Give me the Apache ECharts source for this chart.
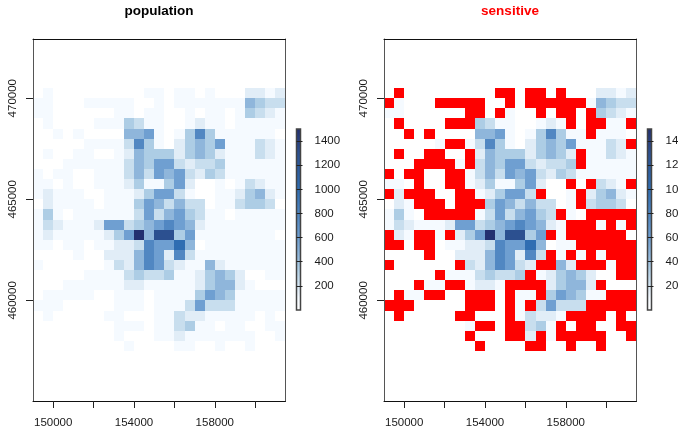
<!DOCTYPE html>
<html><head><meta charset="utf-8">
<style>html,body{margin:0;padding:0;background:#fff;overflow:hidden}#c{width:678px;height:427px}</style>
<script src="https://cdn.jsdelivr.net/npm/echarts@6/dist/echarts.min.js"></script>
</head><body><div id="c"></div>
<script>
const _ = null;
const xOrigin = 149000, yOrigin = 470500, cellSize = 500;
const population = [
[_,50,_,_,_,_,_,_,_,_,_,50,50,_,50,50,_,50,_,_,_,130,130,50,130],
[50,50,_,_,_,50,50,50,50,50,_,_,50,_,50,50,50,50,50,50,50,400,300,210,210],
[50,50,_,_,_,_,_,_,50,50,_,50,50,_,_,50,_,50,50,_,50,300,210,130,50],
[_,50,_,_,_,_,50,50,50,300,210,50,50,_,_,50,130,50,50,_,50,50,50,50,50],
[_,_,50,_,50,_,_,_,_,400,400,520,50,_,50,300,700,300,50,50,50,50,50,50,_],
[_,_,_,_,_,50,50,50,50,210,700,300,50,_,130,300,400,300,520,50,50,50,210,130,50],
[_,50,_,_,50,50,_,_,50,130,400,300,300,300,130,300,400,300,130,50,50,50,210,130,50],
[_,_,_,50,50,50,50,50,50,210,400,300,520,520,210,130,210,210,300,50,50,50,50,50,50],
[50,_,50,50,_,_,50,50,50,210,400,210,520,400,520,210,130,300,210,50,50,50,50,50,50],
[50,50,_,50,_,_,50,50,50,130,300,50,50,300,520,130,_,_,50,_,50,210,130,50,50],
[50,130,50,50,50,_,_,50,50,50,130,300,520,520,210,50,_,_,50,50,130,300,400,130,50],
[_,130,50,50,50,50,_,50,50,50,300,520,400,210,400,210,210,_,50,50,210,300,300,210,_],
[50,300,50,_,50,50,50,50,50,50,210,520,210,400,520,300,210,50,50,_,50,50,50,50,50],
[50,210,130,50,50,50,130,520,520,210,300,400,520,700,520,400,130,50,50,50,50,50,50,50,50],
[50,130,50,50,50,50,50,130,300,520,1450,400,1100,1100,300,520,50,50,50,50,50,50,50,50,_],
[50,50,_,50,50,_,50,50,130,130,210,700,520,520,850,400,_,50,50,50,50,50,50,50,50],
[_,_,_,_,50,_,_,130,130,130,400,700,520,130,700,210,50,50,50,50,50,50,50,50,50],
[50,_,_,_,_,_,_,50,210,130,400,700,520,210,130,50,50,400,130,50,50,50,50,50,50],
[_,_,_,_,_,50,50,50,50,210,300,210,210,300,50,50,130,300,400,300,130,_,_,50,50],
[_,_,_,50,50,50,50,50,50,130,130,50,50,50,50,50,130,300,400,400,130,50,_,_,_],
[_,50,50,50,50,50,_,_,50,50,50,_,50,50,50,50,300,520,400,300,50,50,50,50,50],
[50,50,50,_,_,_,_,_,50,50,50,_,50,50,50,210,520,210,210,210,50,50,50,50,50],
[_,50,_,_,_,_,_,50,50,_,_,_,50,50,210,130,130,50,50,50,50,50,_,50,_],
[_,_,_,_,_,_,_,_,50,50,50,_,50,50,210,300,50,50,_,50,50,_,_,50,50],
[_,_,_,_,_,_,_,_,50,_,_,_,50,50,130,50,50,50,50,50,50,50,_,_,50],
[_,_,_,_,_,_,_,_,_,50,_,_,_,_,50,50,_,_,50,_,_,50,_,_,_]
];
const sensitive = [
[_,0,_,_,_,_,_,_,_,_,_,0,0,_,0,0,_,0,_,_,_,13,13,5,13],
[0,5,_,_,_,0,0,0,0,0,_,_,0,_,0,0,0,0,0,0,5,40,30,21,21],
[5,5,_,_,_,_,_,_,0,0,_,0,5,_,_,0,_,0,0,_,0,30,21,13,5],
[_,0,_,_,_,_,0,0,0,30,21,5,5,_,_,5,13,5,0,_,0,0,5,5,0],
[_,_,0,_,0,_,_,_,_,40,40,52,5,_,5,30,70,30,5,5,0,5,5,5,_],
[_,_,_,_,_,5,0,0,5,21,70,30,5,_,13,30,40,30,52,5,5,5,21,13,0],
[_,0,_,_,0,0,_,_,0,13,40,30,30,30,13,30,40,30,13,0,5,5,21,13,5],
[_,_,_,0,0,0,0,5,0,21,40,30,52,52,21,13,21,21,30,0,5,5,5,5,5],
[0,_,0,0,_,_,0,0,5,21,40,21,52,40,52,21,13,30,21,5,5,5,5,5,5],
[5,5,_,0,_,_,0,0,5,13,30,5,5,30,52,13,_,_,0,_,0,21,13,5,0],
[0,13,0,0,0,_,_,0,0,5,13,30,52,52,21,0,_,_,5,0,13,30,40,13,5],
[_,13,5,0,0,0,_,0,0,0,30,52,40,21,40,21,21,_,5,0,21,30,30,21,_],
[5,30,5,_,0,0,0,0,0,5,21,52,21,40,52,30,21,0,5,_,0,0,0,0,0],
[5,21,13,5,5,5,13,52,52,21,30,40,52,70,52,40,13,5,0,0,0,5,0,5,0],
[0,13,5,0,0,5,0,13,30,52,145,40,110,110,30,52,0,5,0,0,0,0,0,0,_],
[0,0,_,0,0,_,5,5,13,13,21,70,52,52,85,40,_,5,5,0,0,0,0,0,0],
[_,_,_,_,0,_,_,13,13,13,40,70,52,13,70,21,0,5,0,5,0,5,0,0,0],
[0,_,_,_,_,_,_,0,21,13,40,70,52,21,13,0,0,40,13,0,0,0,5,0,0],
[_,_,_,_,_,0,5,5,5,21,30,21,21,30,0,5,13,30,40,30,13,_,_,0,0],
[_,_,_,0,5,5,0,0,5,13,13,5,0,0,0,0,13,30,40,40,13,0,_,_,_],
[_,0,5,5,0,0,_,_,0,0,0,_,0,5,5,0,30,52,40,30,5,5,0,0,0],
[0,0,0,_,_,_,_,_,0,0,0,_,0,5,0,21,52,21,21,21,0,0,0,0,0],
[_,0,_,_,_,_,_,0,0,_,_,_,0,5,21,13,13,5,0,0,0,0,_,0,_],
[_,_,_,_,_,_,_,_,5,0,0,_,0,0,21,30,5,0,_,0,0,_,_,0,0],
[_,_,_,_,_,_,_,_,0,_,_,_,0,0,13,0,5,0,0,0,0,0,_,_,0],
[_,_,_,_,_,_,_,_,_,0,_,_,_,_,0,0,_,_,0,_,_,0,_,_,_]
];
const xTicks = [150000,152000,154000,156000,158000,160000];
const xLabels = [150000,154000,158000];
const yTicks = [460000,465000,470000];
const popTicks = [200,400,600,800,1000,1200,1400];
const senTicks = [20,40,60,80,100,120,140];
const palette = ['#F5FAFF','#E1EDF7','#C8DEEE','#ADCDE5','#8FB6DB','#6F9FD1','#5187C2','#2F6DB2','#2C5090','#222F70'];
const popBreaks = [100,170,250,350,460,600,780,1000,1300,1500];
const senBreaks = [10,17,25,35,46,60,78,100,130,150];

function colorFor(v, breaks){
  if (v === 0) return '#FF0000';
  for (let i = 0; i < breaks.length; i++) if (v <= breaks[i]) return palette[i];
  return palette[palette.length-1];
}
function cells(matrix){
  const out = [];
  matrix.forEach((row, r) => row.forEach((v, c) => {
    if (v !== null) out.push([xOrigin + c*cellSize, yOrigin - r*cellSize, v]);
  }));
  return out;
}
const tc = '#1a1a1a', font = 'Liberation Sans, Arial, sans-serif';
const panels = [
  {left:33, title:'population', color:'#000', m:population, br:popBreaks, cbLeft:296.5, max:1500, ticks:popTicks},
  {left:384, title:'sensitive', color:'#FF0000', m:sensitive, br:senBreaks, cbLeft:647.5, max:150, ticks:senTicks}
];
const grid=[], xAxis=[], yAxis=[], series=[], title=[];
panels.forEach((p,i)=>{
  grid.push({left:p.left, top:39, width:252.5, height:362, show:false, outerBoundsMode:'none'});
  grid.push({left:p.cbLeft, top:129, width:4, height:181, show:false, outerBoundsMode:'none'});
  const g = i*2, cb = i*2+1;
  const hLine = {show:true, onZero:false, lineStyle:{color:'#111', width:1}};
  const vLine = {show:true, onZero:false, lineStyle:{color:'#555', width:1}};
  const ext = {xmin:149000, xmax:161500, ymin:455025, ymax:472928};
  const xb = xAxis.length;
  xAxis.push({gridIndex:g, type:'value', position:'bottom', min:ext.xmin, max:ext.xmax, z:10, axisLine:hLine,
    splitLine:{show:false}, axisTick:{show:true, length:7, customValues:xTicks, lineStyle:{color:'#222'}},
    axisLabel:{show:true, customValues:xLabels, margin:16, color:tc, fontSize:11.5, fontFamily:font, formatter:v=>String(v)}});
  xAxis.push({gridIndex:g, type:'value', position:'top', min:ext.xmin, max:ext.xmax, z:10, axisLine:hLine,
    splitLine:{show:false}, axisTick:{show:false}, axisLabel:{show:false}});
  const yl = yAxis.length;
  yAxis.push({gridIndex:g, type:'value', position:'left', min:ext.ymin, max:ext.ymax, z:10, axisLine:vLine,
    splitLine:{show:false}, axisTick:{show:true, length:7, customValues:yTicks, lineStyle:{color:'#222'}},
    axisLabel:{show:true, customValues:yTicks, rotate:90, margin:14, color:tc, fontSize:11.5, fontFamily:font, formatter:v=>String(v)}});
  yAxis.push({gridIndex:g, type:'value', position:'right', min:ext.ymin, max:ext.ymax, z:10, axisLine:vLine,
    splitLine:{show:false}, axisTick:{show:false}, axisLabel:{show:false}});
  const xc = xAxis.length;
  xAxis.push({gridIndex:cb, type:'value', min:0, max:1, show:false});
  const yc = yAxis.length;
  yAxis.push({gridIndex:cb, type:'value', position:'right', min:0, max:p.max, z:10, axisLine:{show:false},
    splitLine:{show:false}, axisTick:{show:true, length:6, customValues:p.ticks, lineStyle:{color:'#222'}},
    axisLabel:{show:true, customValues:p.ticks, margin:14, color:tc, fontSize:11.5, fontFamily:font, formatter:v=>String(v)}});
  series.push({type:'custom', coordinateSystem:'cartesian2d', xAxisIndex:xb, yAxisIndex:yl, silent:true, animation:false,
    encode:{x:0,y:1}, data:cells(p.m), clip:true,
    renderItem:(params,api)=>{
      const a = api.coord([api.value(0), api.value(1)]);
      const b = api.coord([api.value(0)+cellSize, api.value(1)-cellSize]);
      const x0 = Math.round(a[0]), y0 = Math.round(a[1]), x1 = Math.round(b[0]), y1 = Math.round(b[1]);
      return {type:'rect', shape:{x:x0,y:y0,width:x1-x0,height:y1-y0}, style:{fill:colorFor(api.value(2),p.br)}};
    }});
  series.push({type:'custom', coordinateSystem:'cartesian2d', xAxisIndex:xc, yAxisIndex:yc, silent:true, animation:false,
    encode:{x:0,y:1}, data:[[0,0],[1,p.max]], clip:false,
    renderItem:(params,api)=>{
      if (params.dataIndex !== 0) return {type:'group', children:[]};
      const a = api.coord([0,p.max]), b = api.coord([1,0]);
      const stops = [{offset:0,color:'#ffffff'}].concat(palette.map((c,k)=>({offset:p.br[k]/p.max,color:c})));
      return {type:'rect', shape:{x:a[0],y:a[1],width:b[0]-a[0],height:b[1]-a[1]},
        style:{fill:new echarts.graphic.LinearGradient(0,1,0,0,stops), stroke:'#444', lineWidth:1.5}};
    }});
  title.push({text:p.title, left:p.left+126, top:4, padding:0, textAlign:'center',
    textStyle:{color:p.color, fontSize:13.5, fontWeight:'bold', fontFamily:font}});
});
const chart = echarts.init(document.getElementById('c'), null, {renderer:'canvas'});
chart.setOption({animation:false, backgroundColor:'#fff', title, grid, xAxis, yAxis, series});
</script></body></html>
